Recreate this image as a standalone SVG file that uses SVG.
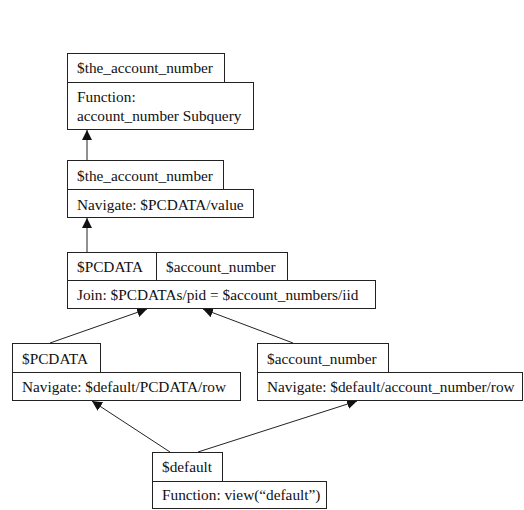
<svg xmlns="http://www.w3.org/2000/svg" width="524" height="510" viewBox="0 0 524 510">
  <style>
    rect { fill: #fff; stroke: #222; stroke-width: 1; }
    line.v { stroke: #222; stroke-width: 1; }
    text { font-family: "Liberation Serif", "Times New Roman", serif; font-size: 15.3px; fill: #111; }
  </style>
  <defs>
    <marker id="arrow" viewBox="0 0 10 10" refX="10" refY="5" markerWidth="10" markerHeight="10" markerUnits="userSpaceOnUse" orient="auto">
      <path d="M0,0 L10,5 L0,10 z" fill="#111"/>
    </marker>
  </defs>
  <rect x="0" y="0" width="524" height="510" style="stroke:none"/>

  <g id="connectors">
    <line class="v" x1="87" y1="160" x2="87" y2="130" marker-end="url(#arrow)"/>
    <line class="v" x1="87" y1="252" x2="87" y2="218" marker-end="url(#arrow)"/>
    <line class="v" x1="50" y1="343" x2="147" y2="309" marker-end="url(#arrow)"/>
    <line class="v" x1="293" y1="343" x2="203" y2="309" marker-end="url(#arrow)"/>
    <line class="v" x1="170" y1="452" x2="92" y2="401" marker-end="url(#arrow)"/>
    <line class="v" x1="198" y1="452" x2="357" y2="401" marker-end="url(#arrow)"/>
  </g>

  <g id="subquery">
    <rect x="67.5" y="53.5" width="157" height="29"/>
    <rect x="67.5" y="82.5" width="186" height="47"/>
    <text x="77" y="73">$the_account_number</text>
    <text x="77" y="102">Function:</text>
    <text x="77" y="121">account_number Subquery</text>
  </g>

  <g id="navigate-value">
    <rect x="67.5" y="160.5" width="156" height="29"/>
    <rect x="67.5" y="189.5" width="186" height="28"/>
    <text x="77" y="181">$the_account_number</text>
    <text x="77" y="210">Navigate: $PCDATA/value</text>
  </g>

  <g id="join">
    <rect x="67.5" y="252.5" width="89" height="28"/>
    <rect x="156.5" y="252.5" width="131" height="28"/>
    <rect x="67.5" y="280.5" width="308" height="28"/>
    <text x="77" y="272">$PCDATA</text>
    <text x="166" y="272">$account_number</text>
    <text x="77" y="300">Join: $PCDATAs/pid = $account_numbers/iid</text>
  </g>

  <g id="navigate-pcdata">
    <rect x="12.5" y="343.5" width="88" height="29"/>
    <rect x="12.5" y="372.5" width="228" height="28"/>
    <text x="22" y="364">$PCDATA</text>
    <text x="22" y="392">Navigate: $default/PCDATA/row</text>
  </g>

  <g id="navigate-account">
    <rect x="257.5" y="343.5" width="131" height="29"/>
    <rect x="257.5" y="372.5" width="265" height="28"/>
    <text x="267" y="364">$account_number</text>
    <text x="267" y="392">Navigate: $default/account_number/row</text>
  </g>

  <g id="default-view">
    <rect x="152.5" y="452.5" width="70" height="29"/>
    <rect x="152.5" y="481.5" width="174" height="27"/>
    <text x="162" y="472">$default</text>
    <text x="162" y="500">Function: view(“default”)</text>
  </g>
</svg>
